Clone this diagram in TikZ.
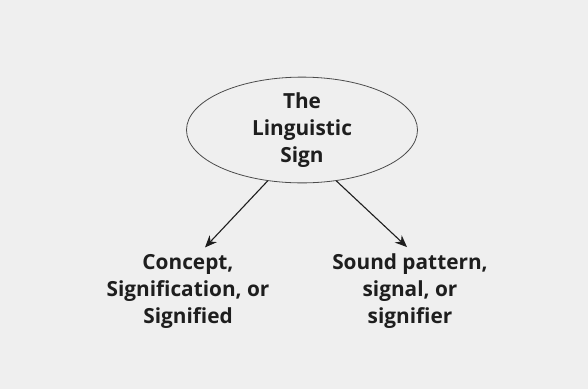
\documentclass[tikz,border=0pt]{standalone}
\usepackage{fontspec}
\setmainfont{Open Sans}
\usepackage{xcolor}
\usepackage{tikz}
\usetikzlibrary{shapes.geometric, arrows.meta}

\definecolor{paper}{HTML}{EFEFEF}
\definecolor{ink}{HTML}{1E1E1E}

\begin{document}
\begin{tikzpicture}[x=1pt, y=-1pt,
    label text/.style={align=center, font=\fontsize{20.8}{27}\selectfont\bfseries, text=ink},
    link/.style={-{Stealth[length=12pt, width=10pt]}, line width=1.1pt, ink}]
    % paper background
    \fill[paper] (0,0) rectangle (588,389);
    \useasboundingbox (0,0) rectangle (588,389);

    % the sign itself
    \node[ellipse, draw=ink!80, line width=0.8pt, minimum width=231pt, minimum height=105pt,
        inner sep=0pt, label text] (sign) at (302,130) {The\\Linguistic\\Sign};

    % its two sides
    \node[label text] (concept) at (188,291) {Concept,\\Signification, or\\Signified};
    \node[label text] (sound) at (410,291) {Sound pattern,\\signal, or\\signifier};

    \draw[link] (sign.236) -- ([xshift=17pt, yshift=3pt]concept.north);
    \draw[link] (sign.304) -- ([xshift=-3pt, yshift=3pt]sound.north);
\end{tikzpicture}
\end{document}
